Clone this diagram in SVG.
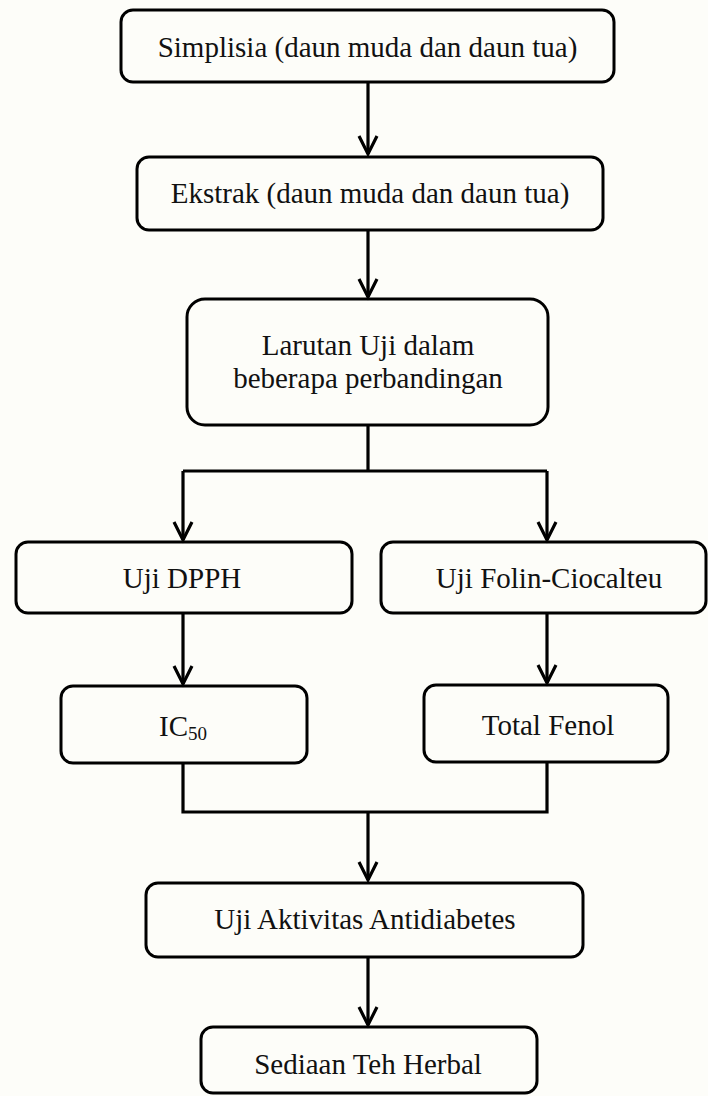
<svg xmlns="http://www.w3.org/2000/svg" width="708" height="1096" viewBox="0 0 708 1096">
<style>
.box{fill:none;stroke:#000;stroke-width:3}
.lbl{font-family:"Liberation Serif","Times New Roman",serif;font-size:29px;fill:#111;text-anchor:middle}
.sub{font-size:19px}
.conn{fill:none;stroke:#000;stroke-width:3.2}
</style>
<defs>
<marker id="arr" viewBox="-22 -12 26 24" refX="0" refY="0" markerWidth="26" markerHeight="24" markerUnits="userSpaceOnUse" orient="auto" overflow="visible">
<path d="M-18,-9 L0,0 L-18,9" fill="none" stroke="#000" stroke-width="3.2" stroke-linejoin="miter"/>
</marker>
</defs>
<rect x="0" y="0" width="708" height="1096" fill="#fdfdf9"/>
<g id="connectors">
<path class="conn" d="M368,82 V154" marker-end="url(#arr)"/>
<path class="conn" d="M368,230 V297" marker-end="url(#arr)"/>
<path class="conn" d="M368,425 V471 M183,471 H547"/>
<path class="conn" d="M183,471 V540" marker-end="url(#arr)"/>
<path class="conn" d="M547,471 V540" marker-end="url(#arr)"/>
<path class="conn" d="M183,613 V684" marker-end="url(#arr)"/>
<path class="conn" d="M547,613 V683" marker-end="url(#arr)"/>
<path class="conn" d="M183,763 V812 H547 V762"/>
<path class="conn" d="M368,812 V880" marker-end="url(#arr)"/>
<path class="conn" d="M368,957 V1025" marker-end="url(#arr)"/>
</g>
<g id="simplisia">
<rect class="box" x="121" y="10" width="493" height="72" rx="12"/>
<text class="lbl" x="367.5" y="57">Simplisia (daun muda dan daun tua)</text>
</g>
<g id="ekstrak">
<rect class="box" x="137" y="157" width="466" height="73" rx="12"/>
<text class="lbl" x="370" y="203">Ekstrak (daun muda dan daun tua)</text>
</g>
<g id="larutan">
<rect class="box" x="187" y="299" width="361" height="126" rx="18"/>
<text class="lbl" x="368" y="355">Larutan Uji dalam</text>
<text class="lbl" x="368" y="388">beberapa perbandingan</text>
</g>
<g id="dpph">
<rect class="box" x="16" y="542" width="336" height="71" rx="12"/>
<text class="lbl" x="182" y="588">Uji DPPH</text>
</g>
<g id="folin">
<rect class="box" x="381" y="542" width="325" height="71" rx="12"/>
<text class="lbl" x="549" y="588">Uji Folin-Ciocalteu</text>
</g>
<g id="ic50">
<rect class="box" x="61" y="686" width="246" height="77" rx="12"/>
<text class="lbl" x="183" y="736">IC<tspan class="sub" dy="4">50</tspan></text>
</g>
<g id="totalfenol">
<rect class="box" x="424" y="685" width="244" height="77" rx="12"/>
<text class="lbl" x="548" y="735">Total Fenol</text>
</g>
<g id="antidiabetes">
<rect class="box" x="146" y="883" width="437" height="74" rx="12"/>
<text class="lbl" x="365" y="929">Uji Aktivitas Antidiabetes</text>
</g>
<g id="sediaan">
<rect class="box" x="201" y="1027" width="336" height="66" rx="12"/>
<text class="lbl" x="368" y="1074">Sediaan Teh Herbal</text>
</g>
</svg>
